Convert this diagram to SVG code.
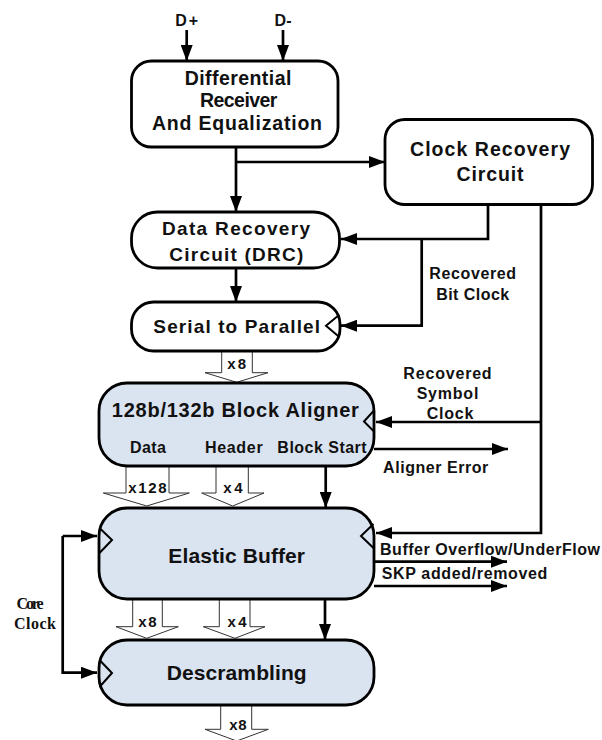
<svg xmlns="http://www.w3.org/2000/svg" width="602" height="740" viewBox="0 0 602 740">
<defs>
<style>
.box{fill:#fff;stroke:#000;stroke-width:2.8}
.blue{fill:#dae3f0;stroke:#000;stroke-width:2.8}
.notch{fill:none;stroke:#000;stroke-width:2}
.t{font-family:"Liberation Sans",Arial,sans-serif;font-weight:bold;fill:#111;text-anchor:middle}
.ts{font-family:"Liberation Serif","Times New Roman",serif;font-weight:bold;fill:#111;text-anchor:middle}
.ln{fill:none;stroke:#000;stroke-width:2.7}
.hol{fill:#fff;stroke:#333;stroke-width:1}
</style>
<marker id="ah" viewBox="0 0 16 12" refX="16" refY="6" markerWidth="16" markerHeight="12" markerUnits="userSpaceOnUse" orient="auto">
<path d="M0,0 L16,6 L0,12 Z" fill="#000"/>
</marker>
</defs>
<rect width="602" height="740" fill="#fff"/>

<g id="connectors">
<path class="ln" d="M186.7,30 V61" marker-end="url(#ah)"/>
<path class="ln" d="M283,30 V61" marker-end="url(#ah)"/>
<path class="ln" d="M236,147 V212" marker-end="url(#ah)"/>
<path class="ln" d="M236,162 H385" marker-end="url(#ah)"/>
<path class="ln" d="M488,205 V239 H341" marker-end="url(#ah)"/>
<path class="ln" d="M421.7,239 V325.7 H341" marker-end="url(#ah)"/>
<path class="ln" d="M236,268 V302" marker-end="url(#ah)"/>
<path class="ln" d="M541,205 V533 H376" marker-end="url(#ah)"/>
<path class="ln" d="M541,422 H376" marker-end="url(#ah)"/>
<path class="ln" d="M374,449 H508" marker-end="url(#ah)"/>
<path class="ln" d="M325.7,466 V508" marker-end="url(#ah)"/>
<path class="ln" d="M325,599 V640" marker-end="url(#ah)"/>
<path class="ln" d="M374,561.7 H507" marker-end="url(#ah)"/>
<path class="ln" d="M374,586 H507" marker-end="url(#ah)"/>
<path class="ln" d="M62.7,536 V672.7 H97" marker-end="url(#ah)"/>
<path class="ln" d="M62.7,536 H97" marker-end="url(#ah)"/>
<path class="hol" d="M221.7,351 V372.7 H205 L236.7,382.3 L268,372.7 H252.3 V351"/>
<path class="hol" d="M126,466 V493 H103.3 L146.7,506 L189.3,493 H169 V466"/>
<path class="hol" d="M216,466 V493 H201.7 L232.7,506 L264,493 H248.3 V466"/>
<path class="hol" d="M132.7,599 V626.7 H116 L146.7,638.3 L178.3,626.7 H162.3 V599"/>
<path class="hol" d="M219.3,599 V626.7 H203.3 L235,638.3 L265,626.7 H250 V599"/>
<path class="hol" d="M220.7,705 V729.3 H205 L236.7,741 L268.3,729.3 H251.7 V705"/>
</g>

<g id="labels">
<text class="t" x="186.7" y="25.5" font-size="16" textLength="23">D+</text>
<text class="t" x="283" y="25.5" font-size="16" textLength="17">D-</text>
<text class="t" x="472.7" y="278.5" font-size="16" textLength="86.7">Recovered</text>
<text class="t" x="472.7" y="300" font-size="16" textLength="73">Bit Clock</text>
<text class="t" x="236.7" y="368.5" font-size="15" textLength="18.7">x8</text>
<text class="t" x="447.5" y="378.5" font-size="16" textLength="88.3">Recovered</text>
<text class="t" x="447.5" y="398.5" font-size="16" textLength="61.7">Symbol</text>
<text class="t" x="450" y="419" font-size="16" textLength="46.7">Clock</text>
<text class="t" x="435.7" y="472.5" font-size="16" textLength="105.3">Aligner Error</text>
<text class="t" x="147.5" y="492.5" font-size="15" textLength="38.3">x128</text>
<text class="t" x="233" y="492.5" font-size="15" textLength="19.3">x4</text>
<text class="t" x="380" y="554.5" font-size="16" style="text-anchor:start" textLength="220">Buffer Overflow/UnderFlow</text>
<text class="t" x="381.7" y="578.5" font-size="16" style="text-anchor:start" textLength="165.7">SKP added/removed</text>
<text class="ts" x="30" y="609" font-size="16" textLength="27">Core</text>
<text class="ts" x="35" y="629" font-size="16" textLength="42">Clock</text>
<text class="t" x="147.5" y="626.5" font-size="15" textLength="18.4">x8</text>
<text class="t" x="237" y="626.5" font-size="15" textLength="19">x4</text>
<text class="t" x="238" y="729.5" font-size="15" textLength="17.4">x8</text>
</g>

<g id="diff-receiver">
<rect class="box" x="131.5" y="61" width="206.5" height="86" rx="20"/>
<text class="t" x="238" y="85" font-size="19.5" textLength="106.7">Differential</text>
<text class="t" x="238.7" y="107" font-size="19.5" textLength="77.3">Receiver</text>
<text class="t" x="237" y="130" font-size="19.5" textLength="170">And Equalization</text>
</g>

<g id="clock-recovery">
<rect class="box" x="385" y="119.5" width="207.5" height="85" rx="20"/>
<text class="t" x="490" y="156" font-size="19.5" textLength="160">Clock Recovery</text>
<text class="t" x="490" y="181" font-size="19.5" textLength="67">Circuit</text>
</g>

<g id="data-recovery">
<rect class="box" x="131.5" y="212" width="208" height="56" rx="26"/>
<text class="t" x="236" y="235" font-size="19" textLength="148">Data Recovery</text>
<text class="t" x="236.3" y="261" font-size="19" textLength="134">Circuit (DRC)</text>
</g>

<g id="serial-to-parallel">
<rect class="box" x="131.5" y="302" width="208.5" height="49" rx="22"/>
<polyline class="notch" points="339,315 326,325.7 339,336.7"/>
<text class="t" x="236.7" y="333" font-size="19" textLength="166.7">Serial to Parallel</text>
</g>

<g id="block-aligner">
<rect class="blue" x="99" y="383" width="275" height="83" rx="28"/>
<polyline class="notch" points="373.5,411 364,421.5 373.5,431"/>
<text class="t" x="235.3" y="417" font-size="20" textLength="247">128b/132b Block Aligner</text>
<text class="t" x="148" y="453" font-size="16" textLength="36">Data</text>
<text class="t" x="233.8" y="453" font-size="16" textLength="57.7">Header</text>
<text class="t" x="322" y="453" font-size="16" textLength="89.3">Block Start</text>
</g>

<g id="elastic-buffer">
<rect class="blue" x="99" y="508" width="275" height="91" rx="28"/>
<polyline class="notch" points="99.5,528 112,540 99.5,553"/>
<polyline class="notch" points="373.5,524 361,536 373.5,548"/>
<text class="t" x="236.7" y="563" font-size="21" textLength="136.7">Elastic Buffer</text>
</g>

<g id="descrambling">
<rect class="blue" x="99" y="640" width="275" height="65" rx="28"/>
<polyline class="notch" points="99.5,660 112,673 99.5,687"/>
<text class="t" x="236.7" y="680" font-size="21" textLength="140">Descrambling</text>
</g>
</svg>
